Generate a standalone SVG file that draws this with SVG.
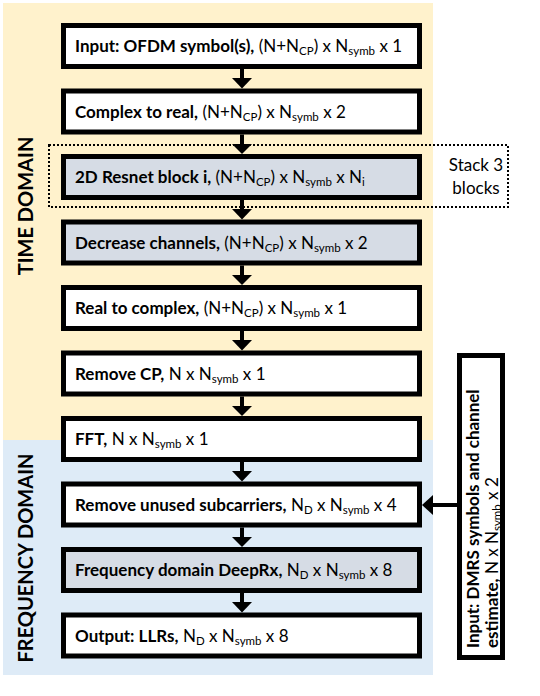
<svg xmlns="http://www.w3.org/2000/svg" width="540" height="696" viewBox="0 0 540 696">
<style>
.bg-t{fill:#FFF2CC}
.bg-f{fill:#DEEBF7}
.box{stroke:#000;stroke-width:5;fill:#fff}
.gray{fill:#D6DCE5}
.t{font-family:Lato,"Open Sans",sans-serif;font-size:17px;fill:#000}
.b{font-weight:bold}
.s{font-size:11.5px}
.dom{font-family:Lato,"Open Sans",sans-serif;font-size:20px;font-weight:bold;fill:#000}
.ln{stroke:#000;stroke-width:4;fill:none}
.hd{fill:#000}
</style>
<rect class="bg-t" x="3" y="3" width="430" height="437"/>
<rect class="bg-f" x="3" y="440" width="430" height="235"/>
<text class="dom" transform="translate(33,206) rotate(-90)" text-anchor="middle">TIME DOMAIN</text>
<text class="dom" transform="translate(33,558) rotate(-90)" text-anchor="middle">FREQUENCY DOMAIN</text>
<rect x="49" y="145" width="459" height="62" fill="none" stroke="#000" stroke-width="2" stroke-dasharray="2,2"/>
<text class="t" x="476" y="171" text-anchor="middle">Stack 3</text>
<text class="t" x="476" y="194" text-anchor="middle">blocks</text>
<g id="connectors">
<line class="ln" x1="242" y1="69" x2="242" y2="79"/><polygon class="hd" points="232,78 252,78 242,88.5"/>
<line class="ln" x1="242" y1="134.5" x2="242" y2="145"/><polygon class="hd" points="232,144 252,144 242,154"/>
<line class="ln" x1="242" y1="200" x2="242" y2="210"/><polygon class="hd" points="232,209 252,209 242,219.5"/>
<line class="ln" x1="242" y1="265.5" x2="242" y2="276"/><polygon class="hd" points="232,275 252,275 242,285"/>
<line class="ln" x1="242" y1="331" x2="242" y2="341"/><polygon class="hd" points="232,340 252,340 242,350.5"/>
<line class="ln" x1="242" y1="396.5" x2="242" y2="407"/><polygon class="hd" points="232,406 252,406 242,416"/>
<line class="ln" x1="242" y1="462" x2="242" y2="472"/><polygon class="hd" points="232,471 252,471 242,481.5"/>
<line class="ln" x1="242" y1="527.5" x2="242" y2="538"/><polygon class="hd" points="232,537 252,537 242,547"/>
<line class="ln" x1="242" y1="593" x2="242" y2="603"/><polygon class="hd" points="232,602 252,602 242,612.5"/>
<line class="ln" x1="457" y1="505" x2="431" y2="505"/><polygon class="hd" points="433,495 433,515 422,505"/>
</g>
<g id="n1"><rect class="box" x="63.5" y="25.5" width="356" height="41"/>
<text class="t" x="75" y="52"><tspan class="b">Input: OFDM symbol(s),</tspan> (N+N<tspan class="s" dy="3">CP</tspan><tspan dy="-3">) x N</tspan><tspan class="s" dy="3">symb</tspan><tspan dy="-3"> x 1</tspan></text></g>
<g id="n2"><rect class="box" x="63.5" y="91" width="356" height="41"/>
<text class="t" x="75" y="117.5"><tspan class="b">Complex to real,</tspan> (N+N<tspan class="s" dy="3">CP</tspan><tspan dy="-3">) x N</tspan><tspan class="s" dy="3">symb</tspan><tspan dy="-3"> x 2</tspan></text></g>
<g id="n3"><rect class="box gray" x="63.5" y="156.5" width="356" height="41"/>
<text class="t" x="75" y="183"><tspan class="b">2D Resnet block i,</tspan> (N+N<tspan class="s" dy="3">CP</tspan><tspan dy="-3">) x N</tspan><tspan class="s" dy="3">symb</tspan><tspan dy="-3"> x N</tspan><tspan class="s" dy="3">i</tspan></text></g>
<g id="n4"><rect class="box gray" x="63.5" y="222" width="356" height="41"/>
<text class="t" x="75" y="248.5"><tspan class="b">Decrease channels,</tspan> (N+N<tspan class="s" dy="3">CP</tspan><tspan dy="-3">) x N</tspan><tspan class="s" dy="3">symb</tspan><tspan dy="-3"> x 2</tspan></text></g>
<g id="n5"><rect class="box" x="63.5" y="287.5" width="356" height="41"/>
<text class="t" x="75" y="314"><tspan class="b">Real to complex,</tspan> (N+N<tspan class="s" dy="3">CP</tspan><tspan dy="-3">) x N</tspan><tspan class="s" dy="3">symb</tspan><tspan dy="-3"> x 1</tspan></text></g>
<g id="n6"><rect class="box" x="63.5" y="353" width="356" height="41"/>
<text class="t" x="75" y="379.5"><tspan class="b">Remove CP,</tspan> N x N<tspan class="s" dy="3">symb</tspan><tspan dy="-3"> x 1</tspan></text></g>
<g id="n7"><rect class="box" x="63.5" y="418.5" width="356" height="41"/>
<text class="t" x="75" y="445"><tspan class="b">FFT,</tspan> N x N<tspan class="s" dy="3">symb</tspan><tspan dy="-3"> x 1</tspan></text></g>
<g id="n8"><rect class="box" x="63.5" y="484" width="356" height="41"/>
<text class="t" x="75" y="510.5"><tspan class="b">Remove unused subcarriers,</tspan> N<tspan class="s" dy="3">D</tspan><tspan dy="-3"> x N</tspan><tspan class="s" dy="3">symb</tspan><tspan dy="-3"> x 4</tspan></text></g>
<g id="n9"><rect class="box gray" x="63.5" y="549.5" width="356" height="41"/>
<text class="t" x="75" y="576"><tspan class="b">Frequency domain DeepRx,</tspan> N<tspan class="s" dy="3">D</tspan><tspan dy="-3"> x N</tspan><tspan class="s" dy="3">symb</tspan><tspan dy="-3"> x 8</tspan></text></g>
<g id="n10"><rect class="box" x="63.5" y="615" width="356" height="41"/>
<text class="t" x="75" y="641.5"><tspan class="b">Output: LLRs,</tspan> N<tspan class="s" dy="3">D</tspan><tspan dy="-3"> x N</tspan><tspan class="s" dy="3">symb</tspan><tspan dy="-3"> x 8</tspan></text></g>
<g id="side"><rect class="box" x="459.5" y="355.5" width="43" height="302"/>
<text class="t" transform="translate(479,648) rotate(-90)"><tspan class="b">Input: DMRS symbols and channel</tspan></text>
<text class="t" transform="translate(497.5,648) rotate(-90)"><tspan class="b">estimate,</tspan> N x N<tspan class="s" dy="3">symb</tspan><tspan dy="-3"> x 2</tspan></text></g>
</svg>
